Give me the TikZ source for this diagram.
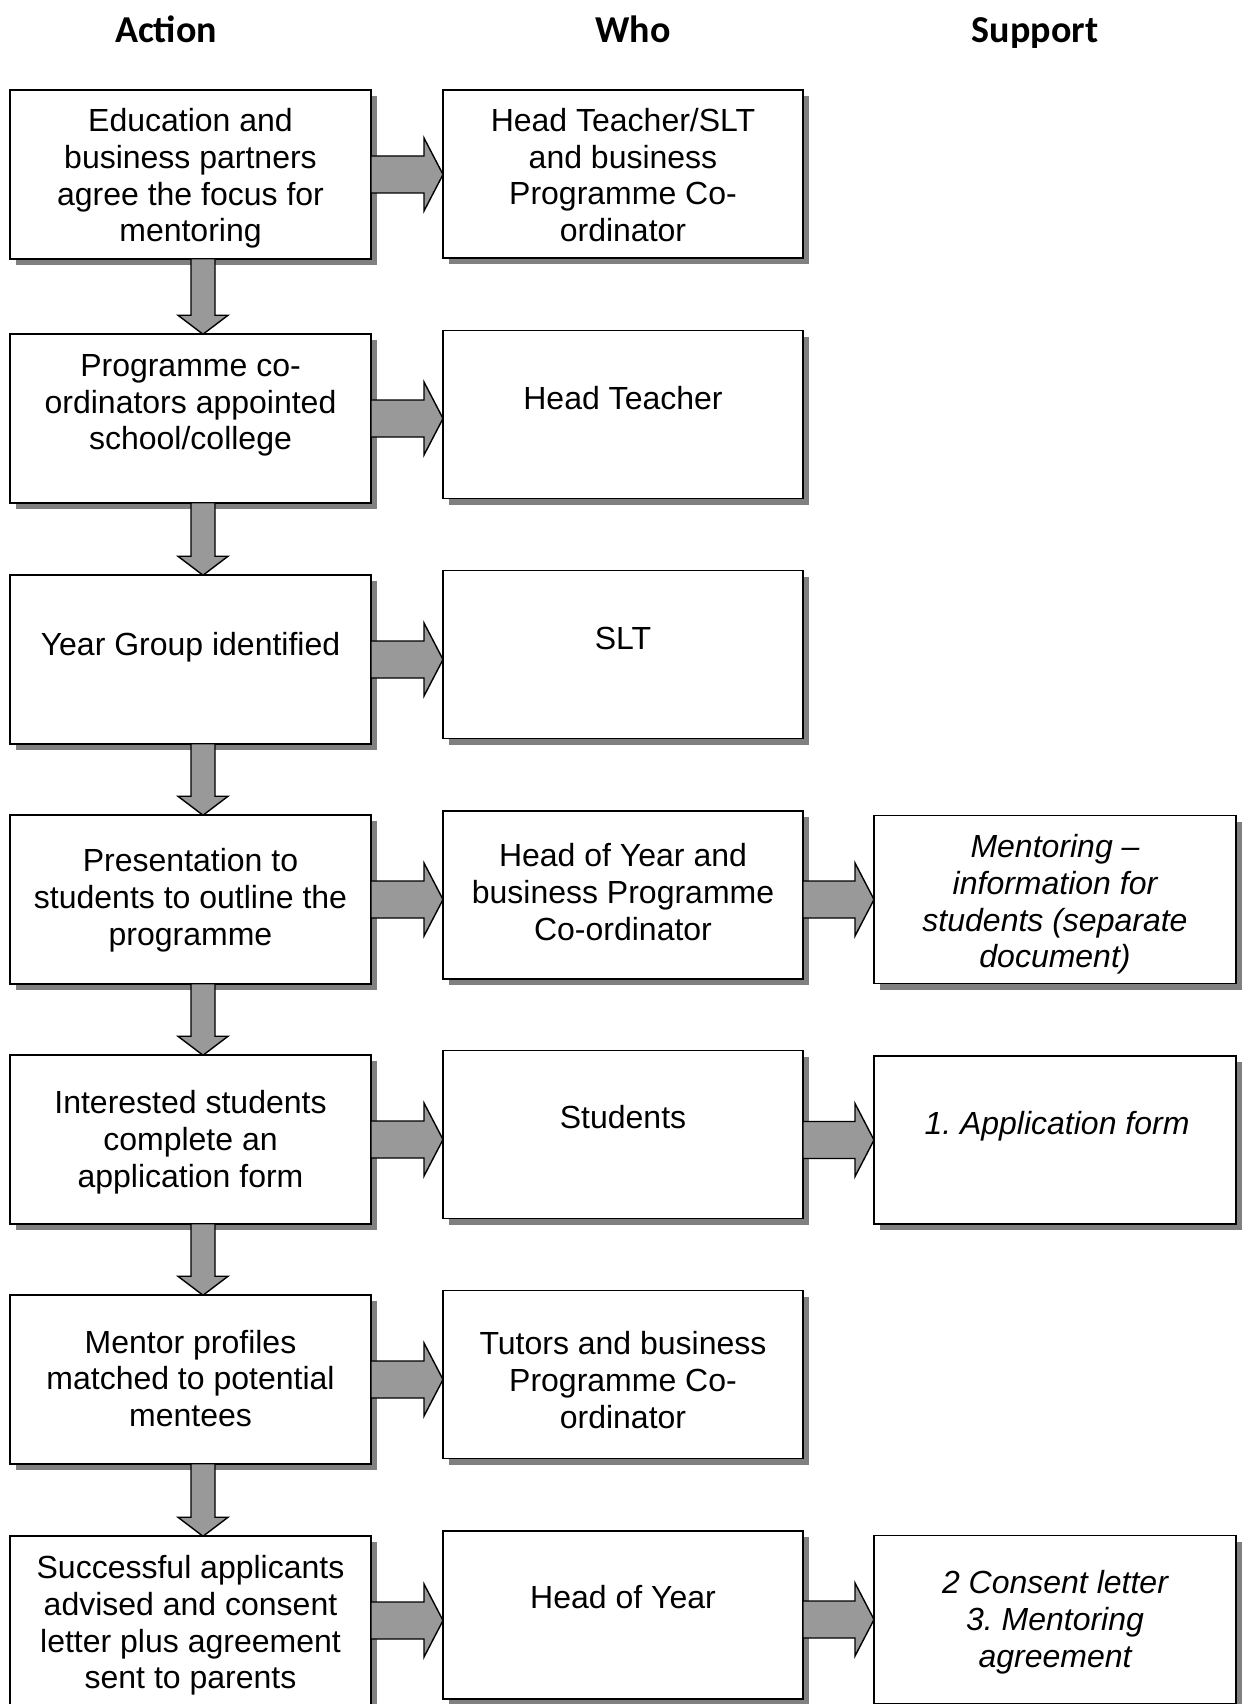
\documentclass[tikz,border=0pt]{standalone}
\usepackage{fontspec}
\setmainfont{Liberation Sans}
\newfontfamily\headfont{Carlito}
\frenchspacing
\usetikzlibrary{shadows,calc}
\tikzset{
  box/.style={draw=black, line width=1.8pt, fill=white, inner sep=0pt, outer sep=0pt,
    minimum height=168.5pt,
    general shadow={fill=black!50, shadow xshift=6pt, shadow yshift=-6pt}},
  actbox/.style={box, minimum width=361pt},
  whobox/.style={box, minimum width=360pt, minimum height=168pt},
  supbox/.style={box, minimum width=362pt, minimum height=168pt},
  txt/.style={align=center, inner sep=0pt, font=\fontsize{32}{36.8}\selectfont\frenchspacing},
  itxt/.style={txt, font=\fontsize{32}{36.8}\selectfont\itshape\frenchspacing},
  head/.style={inner sep=0pt, anchor=base, font=\headfont\bfseries\fontsize{38}{44}\selectfont},
  arrowsty/.style={draw=black, line width=1.4pt, fill=black!40, line join=miter}
}
\newcommand\myharrow[3]{%
  \draw[arrowsty] let \p1=(#1.east), \p2=(#2.west), \p3=(#3.center) in
    (\x1,\y3+18.5pt) -- (\x2-19pt,\y3+18.5pt) -- (\x2-19pt,\y3+36.5pt) -- (\x2,\y3)
    -- (\x2-19pt,\y3-36.5pt) -- (\x2-19pt,\y3-18.5pt) -- (\x1,\y3-18.5pt) -- cycle;}
\newcommand\myvarrow[2]{%
  \draw[arrowsty] let \p1=(#1.south), \p2=(#2.north) in
    (\x1+0.5pt,\y1) -- (\x1+24.5pt,\y1) -- (\x1+24.5pt,\y2+19pt) -- (\x1+37.5pt,\y2+19pt)
    -- (\x1+12.5pt,\y2) -- (\x1-12.5pt,\y2+19pt) -- (\x1+0.5pt,\y2+19pt) -- cycle;}
\begin{document}
\begin{tikzpicture}[x=1pt,y=-1pt]
\useasboundingbox (0,0) rectangle (1245,1704);
% headers
\node[head] (h1) at (166,43) {Action};
\node[head] (h2) at (633,43) {Who};
\node[head] (h3) at (1035,43) {Support};
% action boxes
\node[actbox] (a1) at (190.5,174.5) {};
\node[actbox] (a2) at (190.5,418.5) {};
\node[actbox] (a3) at (190.5,659.5) {};
\node[actbox] (a4) at (190.5,899.5) {};
\node[actbox] (a5) at (190.5,1139.5) {};
\node[actbox] (a6) at (190.5,1379.5) {};
\node[actbox] (a7) at (190.5,1620.5) {};
% who boxes
\node[whobox] (w1) at (623,174) {};
\node[whobox] (w2) at (623,414.5) {};
\node[whobox] (w3) at (623,654.5) {};
\node[whobox] (w4) at (623,895) {};
\node[whobox] (w5) at (623,1134.5) {};
\node[whobox] (w6) at (623,1374.5) {};
\node[whobox] (w7) at (623,1615) {};
% support boxes
\node[supbox] (s4) at (1055,899.5) {};
\node[supbox] (s5) at (1055,1140) {};
\node[supbox] (s7) at (1055,1619.5) {};
% texts
\node[txt] (ta1) at (190.5,178.5) {Education and\\business partners\\agree the focus for\\mentoring};
\node[txt] (tw1) at (623,175) {Head Teacher/SLT\\and business\\Programme Co-\\ordinator};
\node[txt] (ta2) at (190.5,405.5) {Programme co-\\ordinators appointed\\school/college};
\node[txt] (tw2) at (623,398) {Head Teacher};
\node[txt] (ta3) at (190.5,647.5) {Year Group identified};
\node[txt] (tw3) at (623,638) {SLT};
\node[txt] (ta4) at (190.5,900.5) {Presentation to\\students to outline the\\programme};
\node[txt] (tw4) at (623,892) {Head of Year and\\business Programme\\Co-ordinator};
\node[itxt] (ts4) at (1055,904.5) {Mentoring --\\information for\\students (separate\\document)};
\node[txt] (ta5) at (190.5,1142) {Interested students\\complete an\\application form};
\node[txt] (tw5) at (623,1117) {Students};
\node[itxt] (ts5) at (1057,1126.5) {1. Application form};
\node[txt] (ta6) at (190.5,1378.5) {Mentor profiles\\matched to potential\\mentees};
\node[txt] (tw6) at (623,1380) {Tutors and business\\Programme Co-\\ordinator};
\node[txt] (ta7) at (190.5,1625.5) {Successful applicants\\advised and consent\\letter plus agreement\\sent to parents};
\node[txt] (tw7) at (623,1597) {Head of Year};
\node[itxt] (ts7) at (1055,1622) {2 Consent letter\\3. Mentoring\\agreement};
% right arrows
\myharrow{a1}{w1}{a1}
\myharrow{a2}{w2}{a2}
\myharrow{a3}{w3}{a3}
\myharrow{a4}{w4}{a4}
\myharrow{a5}{w5}{a5}
\myharrow{a6}{w6}{a6}
\myharrow{a7}{w7}{a7}
\myharrow{w4}{s4}{s4}
\myharrow{w5}{s5}{s5}
\myharrow{w7}{s7}{s7}
% down arrows
\myvarrow{a1}{a2}
\myvarrow{a2}{a3}
\myvarrow{a3}{a4}
\myvarrow{a4}{a5}
\myvarrow{a5}{a6}
\myvarrow{a6}{a7}
\end{tikzpicture}
\end{document}
